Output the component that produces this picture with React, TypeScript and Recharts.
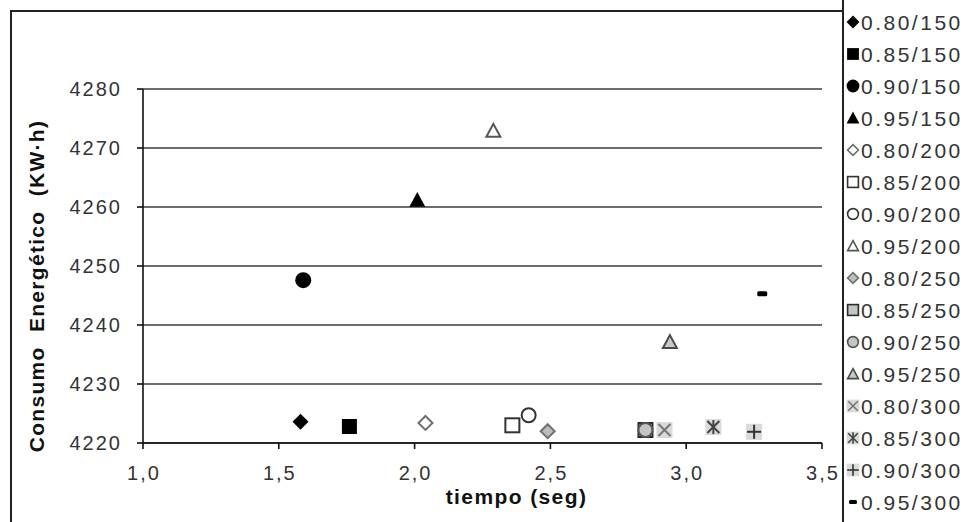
import React from 'react'
import { ScatterChart, Scatter, XAxis, YAxis, CartesianGrid } from 'recharts'

const FONT = '"Liberation Sans", Arial, sans-serif'

// series names (factor de potencia / carga)
const SERIES = [
  '0.80/150', '0.85/150', '0.90/150', '0.95/150',
  '0.80/200', '0.85/200', '0.90/200', '0.95/200',
  '0.80/250', '0.85/250', '0.90/250', '0.95/250',
  '0.80/300', '0.85/300', '0.90/300', '0.95/300',
]

// tiempo (seg) per series
const TIEMPO = [
  1.58, 1.76, 1.59, 2.01,
  2.04, 2.36, 2.42, 2.29,
  2.49, 2.85, 2.85, 2.94,
  2.92, 3.1, 3.25, 3.28,
]

// consumo energético (KW·h) per series
const CONSUMO = [
  4223.6, 4222.8, 4247.6, 4261.2,
  4223.4, 4223.0, 4224.7, 4272.9,
  4222.0, 4222.2, 4222.2, 4237.1,
  4222.2, 4222.7, 4221.9, 4245.3,
]

const X_TICKS = [1, 1.5, 2, 2.5, 3, 3.5]
const Y_TICKS = [4220, 4230, 4240, 4250, 4260, 4270, 4280]

type Kind = 'diamond' | 'square' | 'circle' | 'triangle' | 'x' | 'star' | 'plus' | 'dash'
interface MarkerStyle {
  kind: Kind
  fill: string
  stroke: string
}

const MARKER_STYLES: MarkerStyle[] = [
  { kind: 'diamond', fill: '#000', stroke: '#000' },
  { kind: 'square', fill: '#000', stroke: '#000' },
  { kind: 'circle', fill: '#000', stroke: '#000' },
  { kind: 'triangle', fill: '#000', stroke: '#000' },
  { kind: 'diamond', fill: '#fff', stroke: '#6e6e6e' },
  { kind: 'square', fill: '#fff', stroke: '#333' },
  { kind: 'circle', fill: '#fff', stroke: '#333' },
  { kind: 'triangle', fill: '#fff', stroke: '#555' },
  { kind: 'diamond', fill: '#bdbdbd', stroke: '#707070' },
  { kind: 'square', fill: '#c4c4c4', stroke: '#2a2a2a' },
  { kind: 'circle', fill: '#c4c4c4', stroke: '#555' },
  { kind: 'triangle', fill: '#c8c8c8', stroke: '#4a4a4a' },
  { kind: 'x', fill: '#dadada', stroke: '#777' },
  { kind: 'star', fill: '#dadada', stroke: '#444' },
  { kind: 'plus', fill: '#dadada', stroke: '#333' },
  { kind: 'dash', fill: '#000', stroke: '#000' },
]

function Marker({ cx = 0, cy = 0, st, k = 1 }: { cx?: number; cy?: number; st: MarkerStyle; k?: number }) {
  const r = 8 * k
  const sw = 2 * k
  switch (st.kind) {
    case 'diamond': {
      const h = st.fill === '#000' ? r : r - 1
      return (
        <polygon
          points={`${cx},${cy - h} ${cx + h},${cy} ${cx},${cy + h} ${cx - h},${cy}`}
          fill={st.fill}
          stroke={st.stroke}
          strokeWidth={st.fill === '#000' ? 0 : sw}
          strokeLinejoin="miter"
        />
      )
    }
    case 'square': {
      const h = st.fill === '#000' ? r - 0.5 : r - 1
      return (
        <rect
          x={cx - h}
          y={cy - h}
          width={h * 2}
          height={h * 2}
          fill={st.fill}
          stroke={st.stroke}
          strokeWidth={st.fill === '#000' ? 0 : sw}
        />
      )
    }
    case 'circle':
      return (
        <circle
          cx={cx}
          cy={cy}
          r={st.fill === '#000' ? r : r - 1}
          fill={st.fill}
          stroke={st.stroke}
          strokeWidth={st.fill === '#000' ? 0 : sw}
        />
      )
    case 'triangle': {
      const h = st.fill === '#000' ? r : r - 1
      return (
        <polygon
          points={`${cx},${cy - h} ${cx + h},${cy + h * 0.85} ${cx - h},${cy + h * 0.85}`}
          fill={st.fill}
          stroke={st.stroke}
          strokeWidth={st.fill === '#000' ? 0 : sw}
          strokeLinejoin="miter"
        />
      )
    }
    case 'x':
    case 'star':
    case 'plus': {
      const h = r - 2 * k
      return (
        <g>
          <rect x={cx - r} y={cy - r} width={r * 2} height={r * 2} fill={st.fill} />
          {st.kind !== 'plus' && (
            <>
              <line x1={cx - h} y1={cy - h} x2={cx + h} y2={cy + h} stroke={st.stroke} strokeWidth={sw} />
              <line x1={cx - h} y1={cy + h} x2={cx + h} y2={cy - h} stroke={st.stroke} strokeWidth={sw} />
            </>
          )}
          {st.kind !== 'x' && (
            <line x1={cx} y1={cy - h - 1} x2={cx} y2={cy + h + 1} stroke={st.stroke} strokeWidth={sw} />
          )}
          {st.kind === 'plus' && (
            <line x1={cx - h - 1} y1={cy} x2={cx + h + 1} y2={cy} stroke={st.stroke} strokeWidth={sw} />
          )}
        </g>
      )
    }
    case 'dash':
      return <rect x={cx - 5 * k} y={cy - 2.5 * k} width={10 * k} height={5 * k} rx={1.5} fill={st.fill} />
    default:
      return null
  }
}

function YTick(props: { x?: number; y?: number; payload?: { value: number } }) {
  const { x = 0, y = 0, payload } = props
  return (
    <text x={x + 2} y={y} dy="0.355em" textAnchor="end" fontSize={20} letterSpacing={2} fill="#333" fontFamily={FONT}>
      {payload?.value}
    </text>
  )
}

function XTick(props: { x?: number; y?: number; payload?: { value: number } }) {
  const { x = 0, y = 0, payload } = props
  const label = (payload?.value ?? 0).toFixed(1).replace('.', ',')
  return (
    <text x={x + 1} y={y} dy="0.71em" textAnchor="middle" fontSize={20} letterSpacing={2} fill="#333" fontFamily={FONT}>
      {label}
    </text>
  )
}

function XTitle(props: { viewBox?: { x: number; y: number; width: number; height: number } }) {
  const vb = props.viewBox ?? { x: 0, y: 0, width: 0, height: 0 }
  return (
    <text
      x={vb.x + vb.width / 2 + 34}
      y={vb.y + 61}
      textAnchor="middle"
      fontSize={21}
      fontWeight="bold"
      letterSpacing={1.4}
      fill="#111"
      fontFamily={FONT}
    >
      tiempo (seg)
    </text>
  )
}

function YTitle(props: { viewBox?: { x: number; y: number; width: number; height: number } }) {
  const vb = props.viewBox ?? { x: 0, y: 0, width: 0, height: 0 }
  const x = 44
  const y = vb.y + vb.height / 2 + 20
  return (
    <text
      x={x}
      y={y}
      transform={`rotate(-90, ${x}, ${y})`}
      textAnchor="middle"
      fontSize={21}
      fontWeight="bold"
      letterSpacing={1.3}
      fill="#111"
      fontFamily={FONT}
      style={{ whiteSpace: 'pre' }}
    >
      {'Consumo  Energético  (KW·h)'}
    </text>
  )
}

function LegendBox() {
  return (
    <div style={{ position: 'absolute', left: 843, top: 0, width: 124, height: 522 }}>
      {SERIES.map((name, i) => (
        <div
          key={name}
          style={{
            position: 'absolute',
            left: 0,
            top: 22 + i * 32 - 16,
            height: 32,
            width: 124,
            display: 'flex',
            alignItems: 'center',
          }}
        >
          <svg width={16} height={16} style={{ marginLeft: 2, flex: 'none' }}>
            <Marker cx={8} cy={8} st={MARKER_STYLES[i]} k={0.8} />
          </svg>
          <span style={{ fontSize: 21, letterSpacing: 2.5, color: '#333', fontFamily: FONT, lineHeight: 1 }}>{name}</span>
        </div>
      ))}
    </div>
  )
}

export default function App() {
  return (
    <div
      style={{
        position: 'absolute',
        left: 0,
        top: 0,
        width: 967,
        height: 522,
        background: '#fff',
        overflow: 'hidden',
        fontFamily: FONT,
      }}
    >
      <ScatterChart width={967} height={522} margin={{ top: 89, right: 145, bottom: 39, left: 83 }}>
        <CartesianGrid vertical={false} stroke="#3c3c3c" strokeWidth={1.6} />
        <XAxis
          type="number"
          dataKey="x"
          domain={[1, 3.5]}
          ticks={X_TICKS}
          interval={0}
          height={40}
          tickSize={6}
          tickMargin={17}
          tick={<XTick />}
          axisLine={{ stroke: '#111', strokeWidth: 1.6 }}
          tickLine={{ stroke: '#111', strokeWidth: 1.6 }}
          label={<XTitle />}
        />
        <YAxis
          type="number"
          dataKey="y"
          domain={[4220, 4280]}
          ticks={Y_TICKS}
          interval={0}
          width={60}
          tickSize={6}
          tickMargin={17}
          tick={<YTick />}
          axisLine={{ stroke: '#111', strokeWidth: 1.6 }}
          tickLine={{ stroke: '#111', strokeWidth: 1.6 }}
          label={<YTitle />}
        />
        {SERIES.map((name, i) => (
          <Scatter
            key={name}
            name={name}
            data={[{ x: TIEMPO[i], y: CONSUMO[i] }]}
            isAnimationActive={false}
            shape={(p: { cx?: number; cy?: number }) => <Marker cx={p.cx} cy={p.cy} st={MARKER_STYLES[i]} />}
          />
        ))}
      </ScatterChart>
      <div
        style={{
          position: 'absolute',
          left: 10,
          top: 10,
          width: 833,
          height: 530,
          borderLeft: '2px solid #222',
          borderTop: '2px solid #222',
          boxSizing: 'border-box',
          pointerEvents: 'none',
        }}
      />
      <div style={{ position: 'absolute', left: 842, top: 0, width: 2, height: 522, background: '#222' }} />
      <LegendBox />
    </div>
  )
}
